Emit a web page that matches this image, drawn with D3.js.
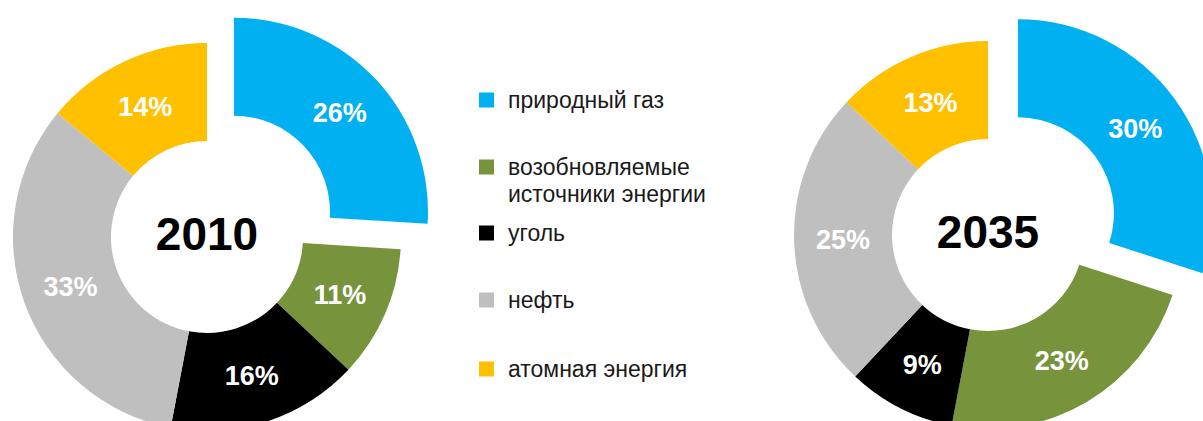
<!DOCTYPE html>
<html>
<head>
<meta charset="utf-8">
<script src="https://cdn.jsdelivr.net/npm/d3@7"></script>
<style>
  html, body { margin: 0; padding: 0; background: #fff; }
  svg { display: block; }
  .pct { font-family: "Liberation Sans", Arial, sans-serif; font-weight: bold; font-size: 27px; fill: #fff; }
  .year { font-family: "Liberation Sans", Arial, sans-serif; font-weight: bold; font-size: 46px; fill: #000; }
  .legend text { font-family: "Liberation Sans", Arial, sans-serif; font-size: 23px; fill: #1a1a1a; }
</style>
</head>
<body>
<div id="chart"></div>
<script>
// categories (clockwise from 12 o'clock)
const categories = ["природный газ", "возобновляемые источники энергии", "уголь", "нефть", "атомная энергия"];
const legendLines = [["природный газ"], ["возобновляемые", "источники энергии"], ["уголь"], ["нефть"], ["атомная энергия"]];
const colors = ["#00b0f0", "#77933c", "#000000", "#bfbfbf", "#ffc000"];
const values2010 = [26, 11, 16, 33, 14];
const values2035 = [30, 23, 9, 25, 13];
const years = ["2010", "2035"];

const W = 1203, H = 421;
const svg = d3.select("#chart").append("svg")
    .attr("width", W).attr("height", H)
    .attr("viewBox", `0 0 ${W} ${H}`);

const rOuter = 194, rInner = 96, explode = 37;
const pie = d3.pie().sort(null).value(d => d);
const arc = d3.arc().innerRadius(rInner).outerRadius(rOuter);
const labelArc = d3.arc().innerRadius(145).outerRadius(145);

function drawDonut(values, year, cx, cy) {
    const g = svg.append("g").attr("transform", `translate(${cx},${cy})`);
    const arcs = pie(values);
    const slices = g.selectAll("g.slice").data(arcs).enter().append("g")
        .attr("class", "slice")
        .attr("transform", (d, i) => {
            if (i !== 0) return null;
            const a = (d.startAngle + d.endAngle) / 2;
            return `translate(${explode * Math.sin(a)},${-explode * Math.cos(a)})`;
        });
    slices.append("path")
        .attr("d", arc)
        .attr("fill", (d, i) => colors[i]);
    slices.append("text")
        .attr("class", "pct")
        .attr("transform", d => `translate(${labelArc.centroid(d)})`)
        .attr("text-anchor", "middle")
        .attr("dy", "0.36em")
        .text(d => d.data + "%");
    g.append("text")
        .attr("class", "year")
        .attr("text-anchor", "middle")
        .attr("y", -4)
        .attr("dy", "0.36em")
        .text(year);
}

drawDonut(values2010, years[0], 207, 237);
drawDonut(values2035, years[1], 988, 235);

// legend
const legendY = [100, 167, 233, 300, 369];
const legend = svg.append("g").attr("class", "legend");
categories.forEach((c, i) => {
    const row = legend.append("g").attr("transform", `translate(479,${legendY[i]})`);
    row.append("rect")
        .attr("x", 0).attr("y", -7.5)
        .attr("width", 15).attr("height", 15)
        .attr("fill", colors[i]);
    legendLines[i].forEach((line, j) => {
        row.append("text")
            .attr("x", 29)
            .attr("y", 8 + j * 27)
            .text(line);
    });
});
</script>
</body>
</html>
